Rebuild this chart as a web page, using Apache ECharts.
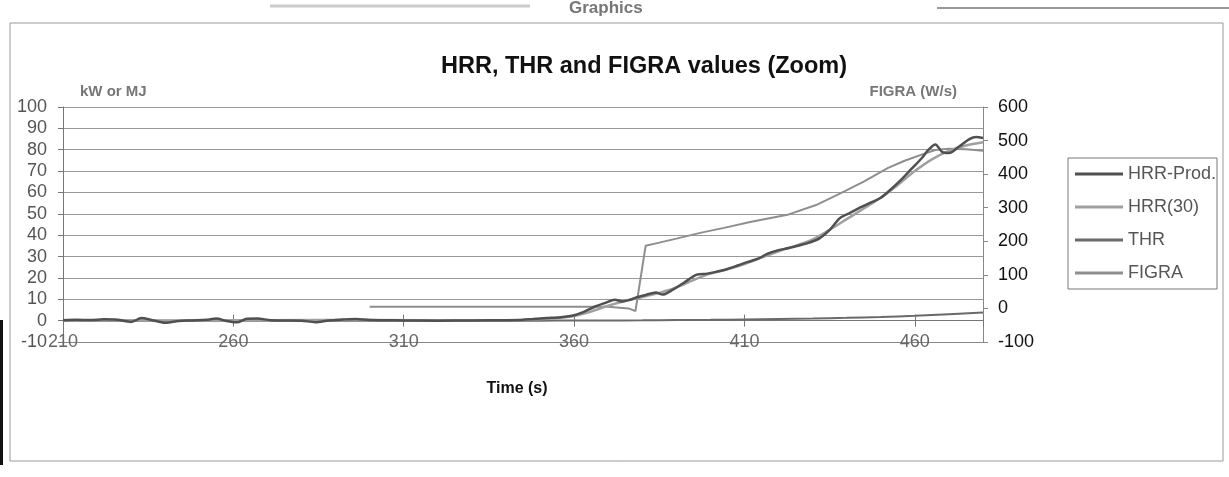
<!DOCTYPE html>
<html>
<head>
<meta charset="utf-8">
<title>HRR, THR and FIGRA values (Zoom)</title>
<script src="https://cdn.jsdelivr.net/npm/echarts@6/dist/echarts.min.js"></script>
<style>
  html, body { margin: 0; padding: 0; background: #fff; }
  #my_chart { width: 1229px; height: 477px; }
</style>
</head>
<body>
<div id="my_chart"></div>
<script>
// HRR-Prod (kW)
var hrrProdTime = [210, 214, 218, 222, 226, 230, 233, 236, 240, 244, 248, 252, 255, 258, 261, 264, 267, 271, 275, 280, 284, 288, 292, 296, 300,
  310, 320, 330, 340, 345, 348, 352, 356, 360, 363, 366, 369, 372, 374, 376, 379, 381, 384, 386, 389, 392, 396, 399, 402, 405, 408,
  411, 414, 417, 420, 423, 426, 429, 432, 435, 438, 441, 444, 447, 450, 453, 456, 459, 462, 464, 466, 468, 470, 473, 476, 478, 480];
var hrrProd = [0.2, 0.4, 0.3, 0.6, 0.4, -0.6, 1.2, 0.3, -1.0, -0.2, 0.1, 0.4, 1.0, -0.2, -0.8, 0.9, 1.0, 0.2, 0.1, 0.0, -0.7, 0.1, 0.5, 0.8, 0.3,
  0.1, 0.0, 0.1, 0.2, 0.4, 0.8, 1.2, 1.6, 2.5, 4.2, 6.5, 8.2, 9.8, 9.0, 9.6, 11.2, 12.0, 13.2, 12.2, 14.5, 17.5, 21.5, 22.0, 23.0, 24.2, 25.8,
  27.5, 29.0, 31.5, 33.0, 34.0, 35.2, 36.5, 38.5, 42.5, 48.0, 50.5, 53.0, 55.2, 57.5, 61.5, 66.0, 71.0, 76.0, 80.0, 82.5, 79.0, 78.5, 81.5, 85.0, 86.0, 85.5];

// HRR(30) (kW)
var hrr30Time = [210, 240, 270, 300, 330, 345, 350, 355, 360, 365, 370, 375, 380, 385, 390, 395, 400, 405, 410, 415, 420, 425, 430,
  435, 440, 445, 450, 455, 460, 465, 470, 475, 480];
var hrr30 = [0.2, 0.1, 0.2, 0.3, 0.1, 0.3, 0.7, 1.2, 2.2, 4.3, 7.0, 9.2, 11.0, 13.0, 15.5, 19.0, 22.0, 24.0, 26.5, 29.5, 32.5, 35.0, 38.0,
  42.5, 47.5, 52.5, 57.5, 63.5, 70.0, 75.5, 79.5, 82.0, 83.5];

// THR (MJ)
var thrTime = [210, 300, 350, 360, 370, 380, 390, 400, 410, 420, 430, 440, 450, 460, 470, 480];
var thr = [0, 0, 0, 0.02, 0.08, 0.15, 0.25, 0.38, 0.55, 0.75, 1.0, 1.3, 1.7, 2.25, 3.0, 3.8];

// FIGRA (W/s), right axis
var figraTime = [300, 320, 340, 360, 370, 376, 378, 381, 385, 390, 397, 404, 412, 423, 431, 438, 445, 452, 457, 462, 466, 470, 475, 480];
var figra = [5, 5, 5, 5, 5, 0, -8, 187, 196, 208, 225, 240, 258, 280, 308, 342, 378, 418, 440, 458, 472, 476, 474, 470];

var xTicks = { min: 210, max: 480, interval: 50 };
var leftTicks = { min: -10, max: 100, interval: 10 };
var rightTicks = { min: -100, max: 600, interval: 100 };

function pairs(t, v) {
  return t.map(function (x, i) { return [x, v[i]]; });
}

var myChart = echarts.init(document.getElementById("my_chart"));
var font = "Liberation Sans, Arial, sans-serif";

var option = {
  animation: false,
  backgroundColor: "#fff",
  textStyle: { fontFamily: font },
  title: {
    text: "HRR, THR and FIGRA values (Zoom)",
    left: 436,
    top: 50,
    textStyle: { fontSize: 23.5, fontWeight: "bold", color: "#111", fontFamily: font },
  },
  grid: { left: 63, right: 246, top: 107, bottom: 135 },
  legend: {
    orient: "vertical",
    left: 1068,
    top: 158,
    padding: [7, 1, 7, 7],
    borderColor: "#777",
    borderWidth: 1,
    itemWidth: 48,
    itemHeight: 3,
    itemGap: 15,
    icon: "rect",
    textStyle: { fontSize: 18, color: "#555", fontFamily: font, padding: [0, 0, 0, 0] },
    data: ["HRR-Prod.", "HRR(30)", "THR", "FIGRA"],
  },
  xAxis: [
    {
      type: "value",
      min: xTicks.min,
      max: xTicks.max,
      interval: xTicks.interval,
      name: "Time (s)",
      nameLocation: "middle",
      nameGap: 39,
      nameTextStyle: { fontSize: 16, fontWeight: "bold", color: "#111", padding: [0, 12, 0, 0] },
      axisLine: { onZero: false, lineStyle: { color: "#888", width: 1 } },
      axisTick: { show: false },
      axisLabel: { margin: -9, fontSize: 18, color: "#666", showMaxLabel: false },
      splitLine: { show: false },
    },
    {
      // cross tick marks sitting on the zero line
      type: "value",
      min: xTicks.min,
      max: xTicks.max,
      interval: xTicks.interval,
      axisLine: { onZero: true, onZeroAxisIndex: 0, lineStyle: { color: "#777" } },
      axisTick: { show: true, length: 6, lineStyle: { color: "#777" } },
      axisLabel: { show: false },
      splitLine: { show: false },
    },
    {
      type: "value",
      min: xTicks.min,
      max: xTicks.max,
      interval: xTicks.interval,
      axisLine: { onZero: true, onZeroAxisIndex: 0, show: false },
      axisTick: { show: true, inside: true, length: 6, lineStyle: { color: "#777" } },
      axisLabel: { show: false },
      splitLine: { show: false },
    },
  ],
  yAxis: [
    {
      type: "value",
      min: leftTicks.min,
      max: leftTicks.max,
      interval: leftTicks.interval,
      name: "kW or MJ",
      nameLocation: "end",
      nameGap: 8,
      nameTextStyle: { align: "left", padding: [0, 0, 0, 17], fontSize: 15, fontWeight: "bold", color: "#777" },
      axisLine: { show: true, lineStyle: { color: "#777", width: 1 } },
      axisTick: { show: true, length: 5, lineStyle: { color: "#777" } },
      axisLabel: { fontSize: 18, color: "#555", margin: 16 },
      splitLine: { lineStyle: { color: "#999", width: 1 } },
    },
    {
      type: "value",
      position: "right",
      min: rightTicks.min,
      max: rightTicks.max,
      interval: rightTicks.interval,
      name: "FIGRA (W/s)",
      nameLocation: "end",
      nameGap: 8,
      nameTextStyle: { align: "right", padding: [0, 26, 0, 0], fontSize: 15, fontWeight: "bold", color: "#777" },
      axisLine: { show: true, lineStyle: { color: "#888", width: 1 } },
      axisTick: { show: true, length: 5, lineStyle: { color: "#888" } },
      axisLabel: { fontSize: 18, color: "#111", margin: 15 },
      splitLine: { show: false },
    },
  ],
  series: [
    {
      name: "HRR-Prod.",
      type: "line",
      yAxisIndex: 0,
      symbol: "none",
      smooth: 0.3,
      z: 5,
      lineStyle: { color: "#505050", width: 2.5 },
      itemStyle: { color: "#505050" },
      data: pairs(hrrProdTime, hrrProd),
    },
    {
      name: "HRR(30)",
      type: "line",
      yAxisIndex: 0,
      symbol: "none",
      smooth: 0.3,
      z: 4,
      lineStyle: { color: "#a0a0a0", width: 2.5 },
      itemStyle: { color: "#a0a0a0" },
      data: pairs(hrr30Time, hrr30),
    },
    {
      name: "THR",
      type: "line",
      yAxisIndex: 0,
      symbol: "none",
      smooth: 0.3,
      z: 3,
      lineStyle: { color: "#6a6a6a", width: 2 },
      itemStyle: { color: "#6a6a6a" },
      data: pairs(thrTime, thr),
    },
    {
      name: "FIGRA",
      type: "line",
      yAxisIndex: 1,
      symbol: "none",
      z: 3,
      lineStyle: { color: "#8e8e8e", width: 2 },
      itemStyle: { color: "#8e8e8e" },
      data: pairs(figraTime, figra),
    },
  ],
  graphic: [
    // page header and frame from the scanned sheet
    { type: "text", left: 569, top: 0, style: { text: "Graphics", fontSize: 17, fontWeight: "bold", fill: "#777", fontFamily: font } },
    { type: "line", shape: { x1: 270, y1: 6, x2: 530, y2: 6 }, style: { stroke: "#ccc", lineWidth: 3 } },
    { type: "line", shape: { x1: 937, y1: 8, x2: 1229, y2: 8 }, style: { stroke: "#999", lineWidth: 2 } },
    { type: "rect", shape: { x: 10, y: 23, width: 1213, height: 438 }, style: { fill: "none", stroke: "#999", lineWidth: 1 } },
    { type: "rect", shape: { x: 0, y: 320, width: 3, height: 145 }, style: { fill: "#111" } },
  ],
};

myChart.setOption(option);
window.addEventListener("resize", function () {
  myChart.resize();
});
</script>
</body>
</html>
